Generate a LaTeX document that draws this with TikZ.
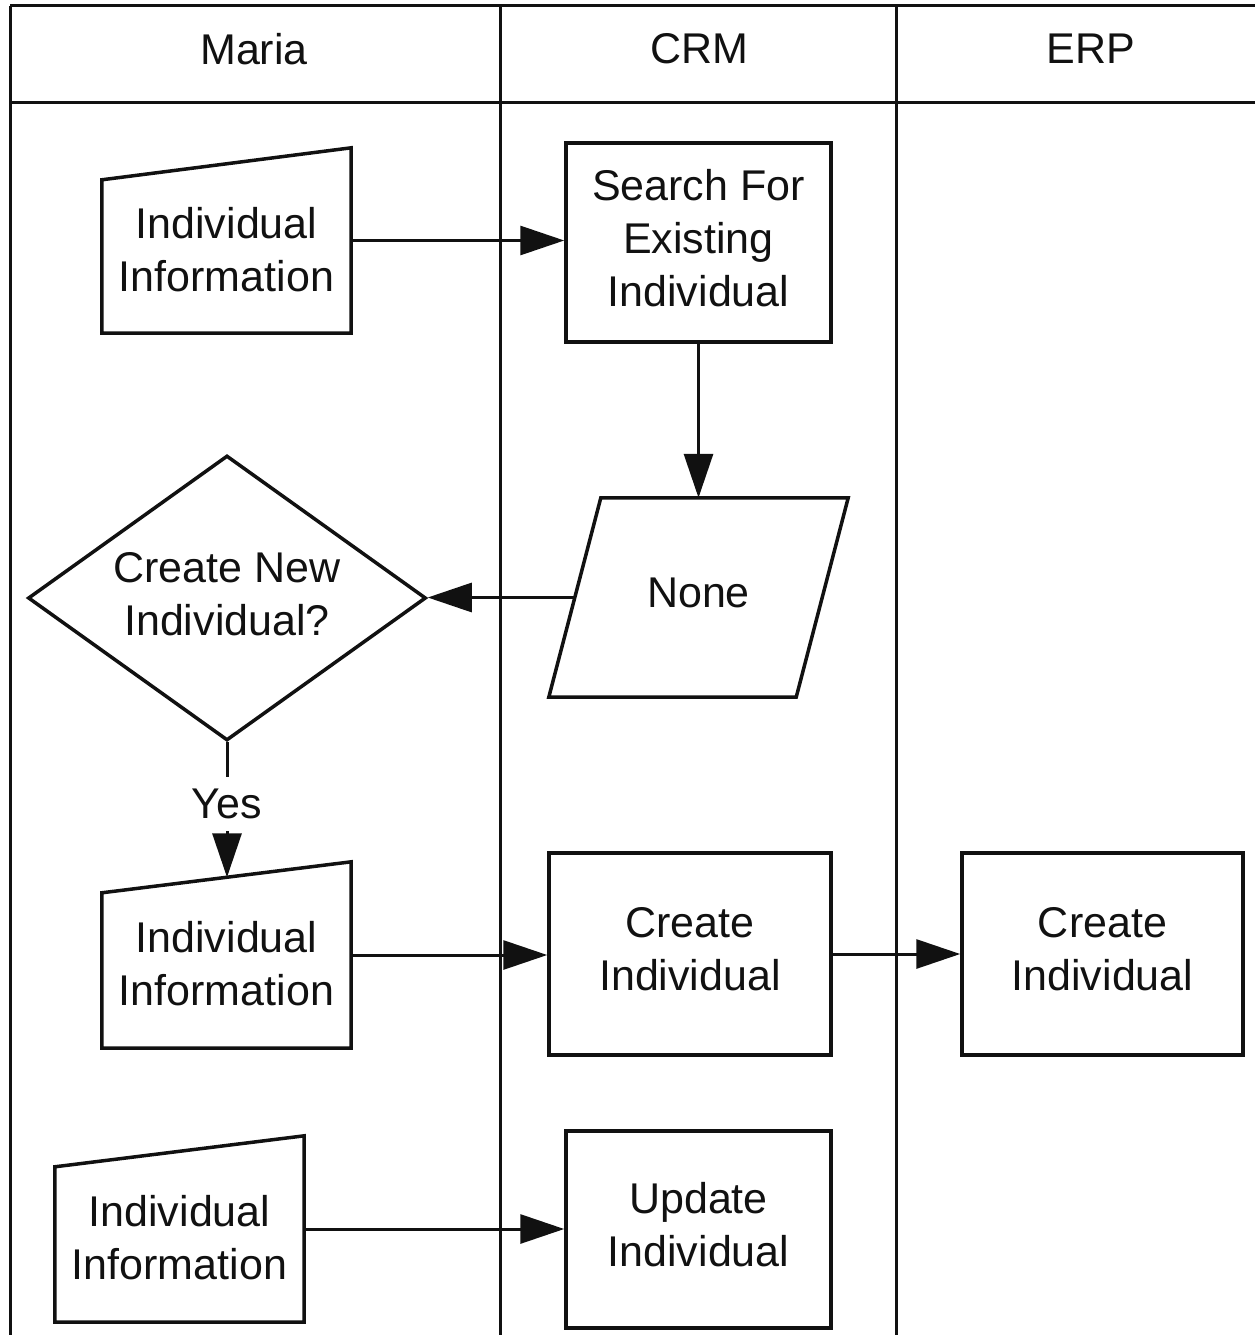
\documentclass[tikz,border=0pt]{standalone}
\usepackage{fontspec}
\setmainfont{Liberation Sans}
\usetikzlibrary{arrows.meta,calc,shapes.geometric}
\definecolor{ink}{HTML}{111111}

\begin{document}
\begin{tikzpicture}[x=1pt,y=-1pt,
  font=\fontsize{43}{53}\selectfont,
  every node/.style={text=ink},
  lane/.style={draw=ink, line width=3pt},
  box/.style={draw=ink, line width=3.5pt, align=center, inner sep=0pt, text depth=10pt},
  ghost/.style={inner sep=0pt, align=center},
  outline/.style={draw=ink, line width=3.5pt, line join=miter},
  flow/.style={draw=ink, line width=3pt, -{Triangle[length=44pt,width=29pt]}},
  txt/.style={align=center, inner sep=0pt}
]
\useasboundingbox (0,0) rectangle (1255,1335);

% swimlane frame
\draw[lane] (10,6) -- (1255,6);
\draw[lane] (10,103) -- (1255,103);
\draw[lane] (10,6) -- (10,1335);
\draw[lane] (500,6) -- (500,1335);
\draw[lane] (896,6) -- (896,1335);

% lane headers
\node (hmaria) at (254,49) {Maria};
\node (hcrm) at (699,49) {CRM};
\node (herp) at (1091,49) {ERP};

% manual input: individual information (top)
\node[ghost, minimum width=249pt, minimum height=185pt] (mi1) at (226.5,240.5) {};
\draw[outline] (mi1.south west) -- (mi1.south east) -- (mi1.north east)
  -- ($(mi1.north west)+(0,32)$) -- cycle;
\node[txt] (mi1t) at ($(mi1.center)+(0,9)$) {Individual\\Information};

% CRM search
\node[box, minimum width=265pt, minimum height=199pt] (search) at (698.5,242.5)
  {Search For\\Existing\\Individual};

% data: none
\node[ghost, minimum width=299pt, minimum height=199pt, text depth=10pt] (none) at (698.5,597.5) {None};
\draw[outline] ($(none.north west)+(52,0)$) -- (none.north east)
  -- ($(none.south east)+(-52,0)$) -- (none.south west) -- cycle;
\coordinate (nonew) at ($(none.west)+(26,0)$);

% decision
\node[diamond, aspect=1.4, draw=ink, line width=3.5pt, minimum width=398pt, minimum height=285pt,
  inner sep=0pt, align=center, text depth=8pt] (dec) at (227,598) {Create New\\Individual?};

% manual input: individual information (middle)
\node[ghost, minimum width=249pt, minimum height=186pt] (mi2) at (226.5,955) {};
\draw[outline] (mi2.south west) -- (mi2.south east) -- (mi2.north east)
  -- ($(mi2.north west)+(0,31)$) -- cycle;
\node[txt] (mi2t) at ($(mi2.center)+(0,9)$) {Individual\\Information};
\coordinate (mi2top) at ($(mi2.north)+(0,15.5)$);

% create in CRM and ERP
\node[box, minimum width=282pt, minimum height=202pt] (crm) at (690,954) {Create\\Individual};
\node[box, minimum width=281pt, minimum height=202pt] (erp) at (1102.5,954) {Create\\Individual};

% manual input: individual information (bottom)
\node[ghost, minimum width=249pt, minimum height=186pt] (mi3) at (179.5,1229) {};
\draw[outline] (mi3.south west) -- (mi3.south east) -- (mi3.north east)
  -- ($(mi3.north west)+(0,31)$) -- cycle;
\node[txt] (mi3t) at ($(mi3.center)+(0,9)$) {Individual\\Information};

% update in CRM
\node[box, minimum width=265pt, minimum height=197pt] (upd) at (698.5,1229.5) {Update\\Individual};

% connectors
\draw[flow] (mi1.east) -- (mi1.east -| search.west);
\draw[flow] (search.south) -- (none.north);
\draw[flow] (nonew) -- (nonew -| dec.east);
\draw[flow] (dec.south) -- node[pos=0.46, fill=white, inner xsep=2pt, inner ysep=0pt, minimum height=54pt] (yes) {Yes}
  (dec.south |- mi2top);
\draw[flow] (mi2.east) -- (mi2.east -| crm.west);
\draw[flow] (crm.east) -- (crm.east -| erp.west);
\draw[flow] (mi3.east) -- (mi3.east -| upd.west);
\end{tikzpicture}
\end{document}
